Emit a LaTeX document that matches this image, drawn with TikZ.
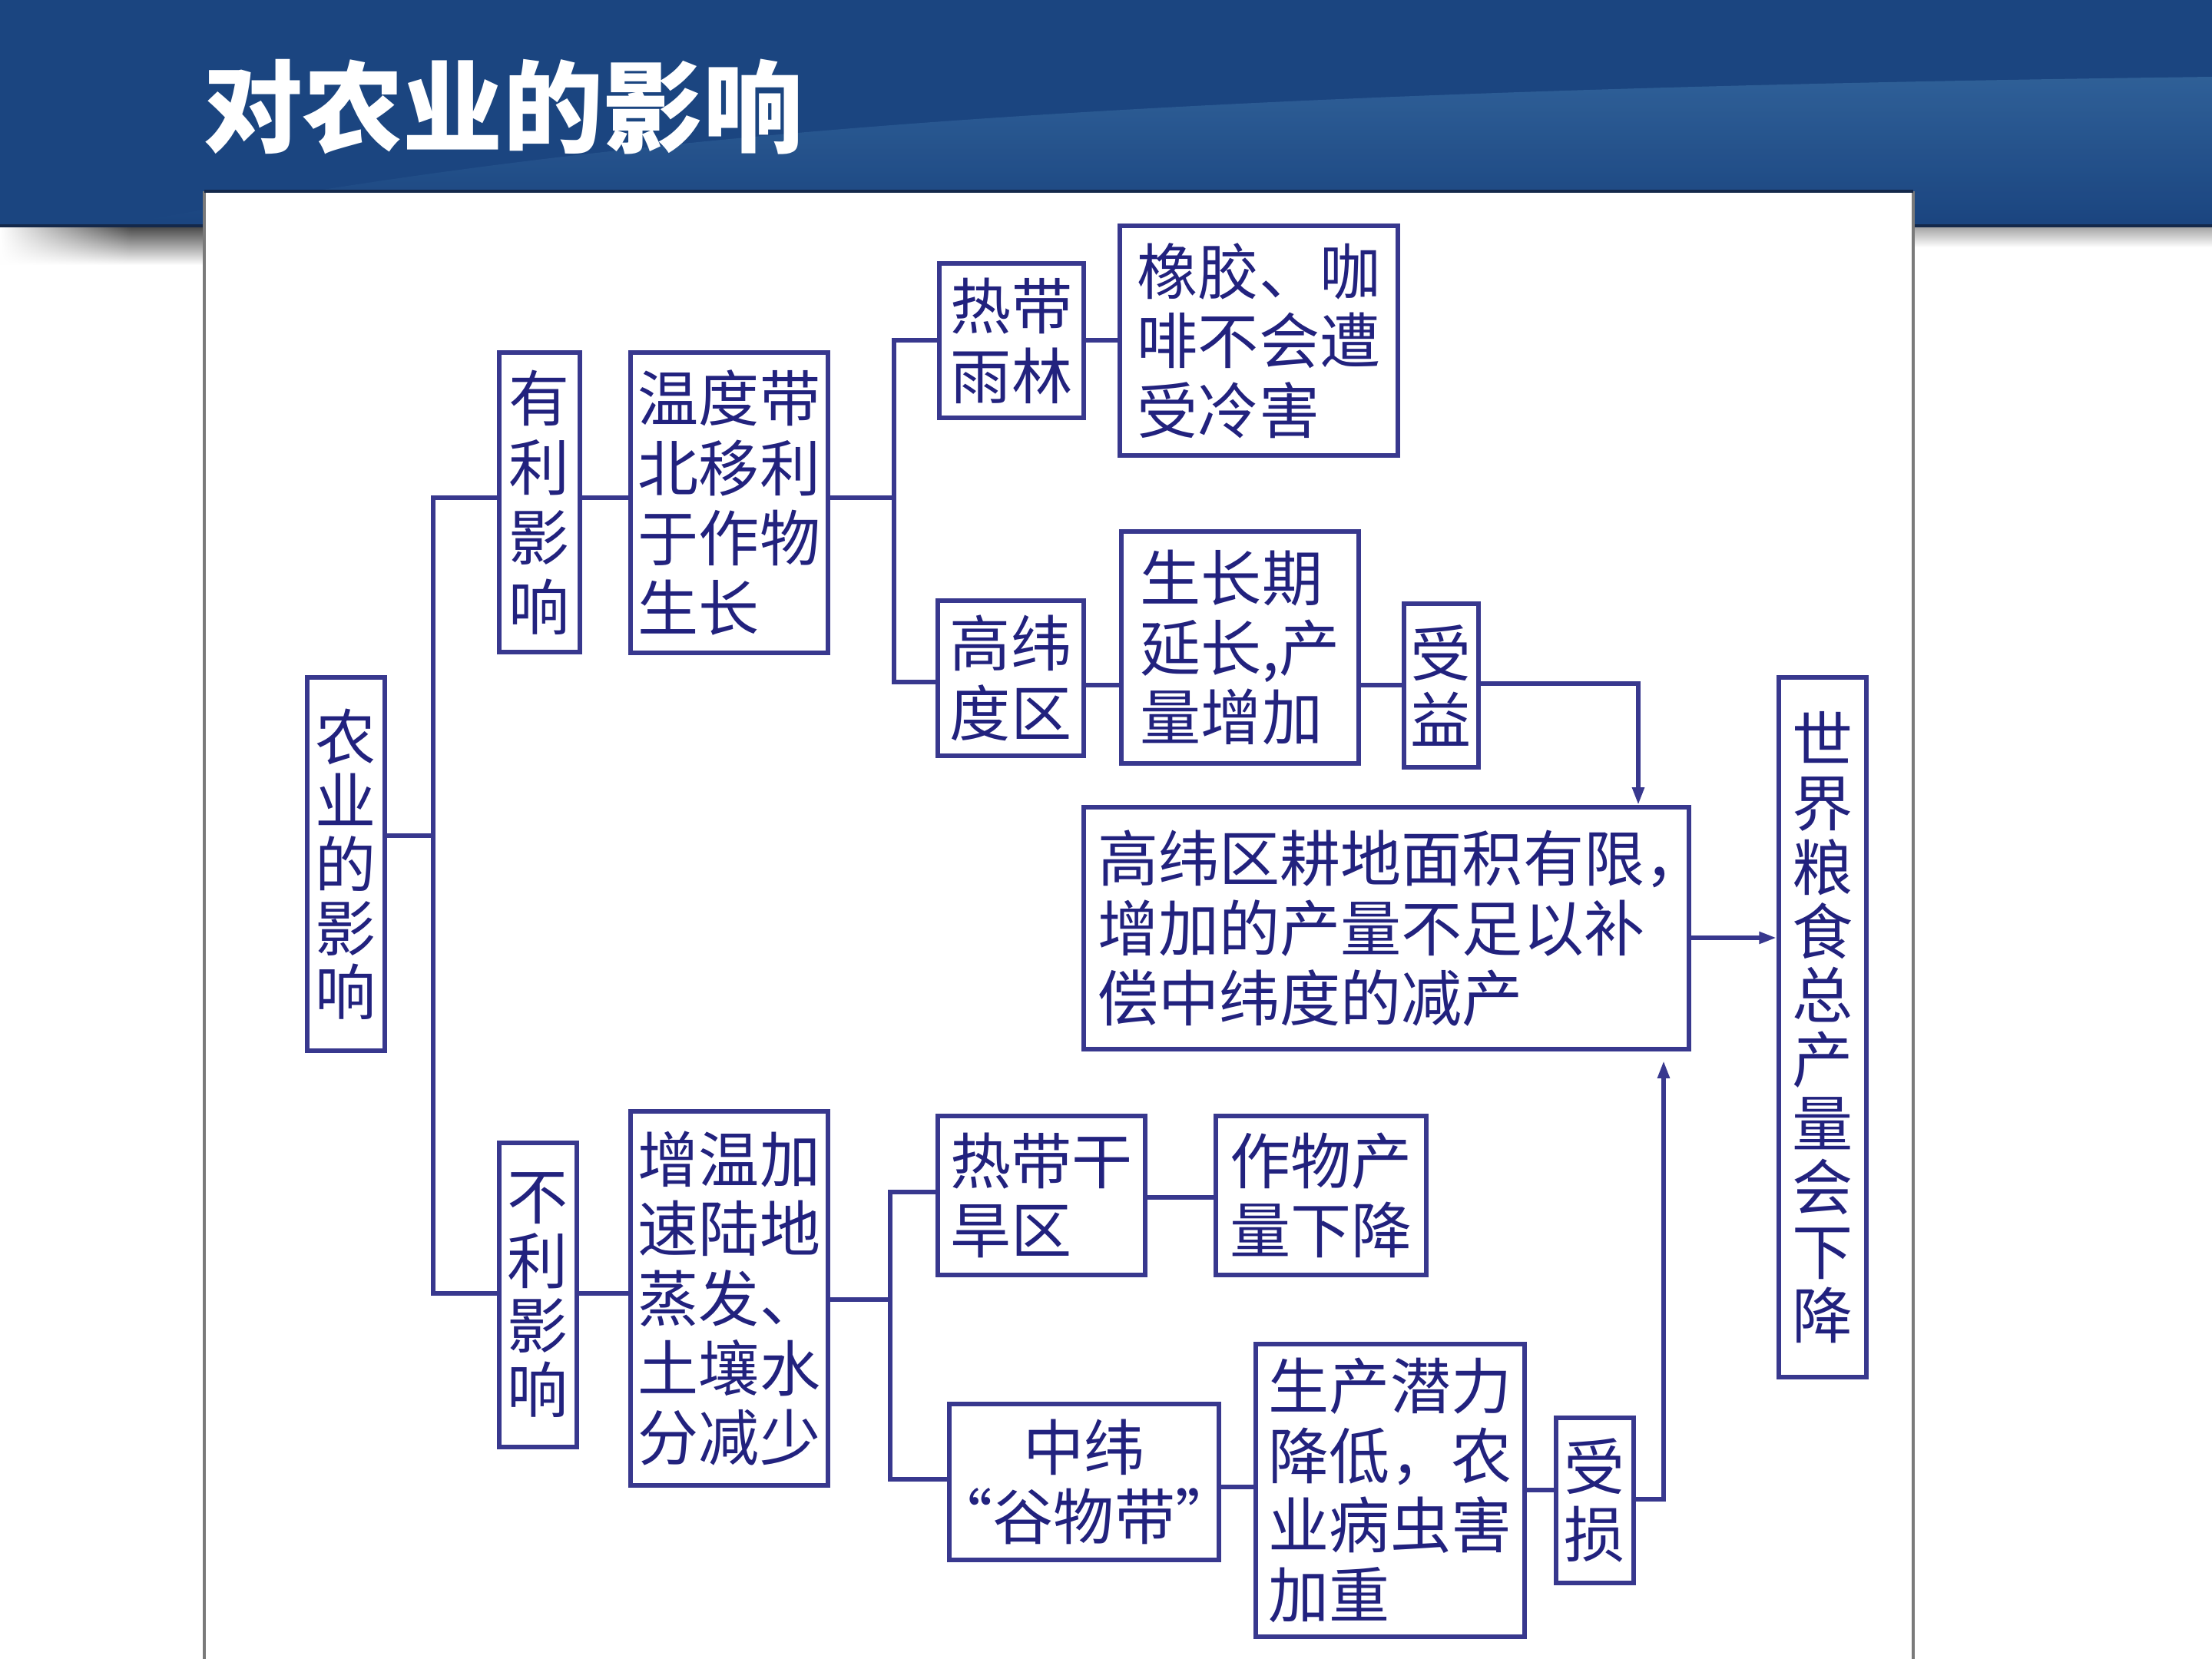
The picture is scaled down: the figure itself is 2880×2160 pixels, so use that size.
\documentclass[tikz,border=0pt]{standalone}
\usepackage{fontspec}
\newfontfamily\cjk{Noto Sans CJK SC}
\usetikzlibrary{arrows.meta,calc,fadings}
\definecolor{hdr}{HTML}{1B4580}
\definecolor{hdrlight}{HTML}{33659C}
\definecolor{hdrdark}{HTML}{14284A}
\definecolor{lncol}{HTML}{38388E}
\definecolor{txt}{HTML}{22227E}
\definecolor{pnl}{HTML}{7A7A7A}
\newcommand{\hcomma}{\makebox[0.5em][l]{，}}
\newcommand{\myopenq}{\makebox[0.5em][r]{“}}
\newcommand{\mycloseq}{\makebox[0.5em][l]{”}}
\tikzset{
  bx/.style={draw=lncol, line width=1.6pt, inner sep=0pt, fill=white, text=txt,
    font=\cjk\fontsize{22.5}{25.8}\selectfont, align=left},
  bxv/.style={bx, align=center, font=\cjk\fontsize{22.5}{#1}\selectfont},
  sz/.style 2 args={minimum width=#1, minimum height=#2},
  ln/.style={draw=lncol, line width=1.6pt},
  arr/.style={ln, -{Triangle[length=6.5pt,width=4.2pt]}}
}
\begin{document}
\begin{tikzpicture}[x=0.01cm,y=-0.01cm]
\useasboundingbox (0,0) rectangle (2880,2160);
% header band
\fill[hdr] (0,0) rectangle (2880,294);
\shade[top color=hdrlight, bottom color=hdr, opacity=0.85]
  (150,294) .. controls (700,190) and (1300,120) .. (2880,100) -- (2880,294) -- cycle;
\draw[hdrdark, line width=1.2pt] (0,294) -- (2880,294);
% shadows below band
\shade[top color=black!70, bottom color=white] (0,296) rectangle (266,345);
\fill[white, path fading=east] (0,296) rectangle (170,345);
\shade[top color=black!35, bottom color=white] (2491,296) rectangle (2880,322);
% title
\node[anchor=base west, text=white, inner sep=0pt,
  font=\cjk\bfseries\fontsize{37}{37}\selectfont] (title) at (264,188) {对农业的影响};
% white panel
\fill[white] (266,249) rectangle (2491,2170);
\draw[pnl, line width=1.2pt] (266,2170) -- (266,249);
\draw[pnl, line width=1.2pt] (2491,249) -- (2491,2170);
\draw[hdrdark, line width=1.2pt] (266,249) -- (2491,249);

% boxes
\node[bxv=23.6pt, sz={1.01cm}{4.86cm}] (farm) at (450.5,1125) {农\\业\\的\\影\\响};
\node[bxv=25.8pt, sz={1.05cm}{3.90cm}] (adv) at (702.5,654) {有\\利\\影\\响};
\node[bx, sz={2.57cm}{3.91cm}] (warm) at (949.5,654.5) {温度带\\北移利\\于作物\\生长};
\node[bx, sz={1.88cm}{2.01cm}] (rain) at (1317,443.5) {热带\\雨林};
\node[bx, sz={3.62cm}{2.99cm}] (rubber) at (1639,443.5) {橡胶、咖\\啡不会遭\\受冷害};
\node[bx, sz={1.90cm}{2.02cm}] (highlat) at (1316,883) {高纬\\度区};
\node[bx, sz={3.09cm}{3.02cm}] (grow) at (1614.5,843) {生长期\\延长,产\\量增加};
\node[bxv=24.7pt, sz={0.97cm}{2.13cm}] (gain) at (1876.5,892.5) {受\\益};
\node[bx, sz={7.88cm}{3.15cm}] (limit) at (1805,1208.5) {高纬区耕地面积有限\hcomma\\增加的产量不足以补\\偿中纬度的减产};
\node[bxv=23.7pt, sz={1.14cm}{9.11cm}] (world) at (2373,1337.5) {世\\界\\粮\\食\\总\\产\\量\\会\\下\\降};
\node[bxv=23.9pt, sz={1.01cm}{3.96cm}] (disadv) at (700.5,1686) {不\\利\\影\\响};
\node[bx, sz={2.57cm}{4.87cm}] (evap) at (949.5,1690.5) {增温加\\速陆地\\蒸发、\\土壤水\\分减少};
\node[bx, sz={2.70cm}{2.07cm}] (dry) at (1356,1556.5) {热带干\\旱区};
\node[bx, sz={2.74cm}{2.07cm}] (yield) at (1720,1556.5) {作物产\\量下降};
\node[bxv=25.8pt, sz={3.51cm}{2.03cm}] (mid) at (1411.5,1929.5) {中纬\\\myopenq 谷物带\mycloseq};
\node[bx, sz={3.50cm}{3.81cm}] (pot) at (1810,1940.5) {生产潜力\\降低，农\\业病虫害\\加重};
\node[bxv=24.9pt, sz={1.01cm}{2.15cm}] (loss) at (2076.5,1953.5) {受\\损};

% connectors
\coordinate (t0) at (564,1088);
\coordinate (t1) at (564,648);
\coordinate (t2) at (564,1684);
\draw[ln] (farm.east |- t0) -- (t0);
\draw[ln] (adv.west |- t1) -- (t1) -- (t2) -- (disadv.west |- t2);
\draw[ln] (adv.east |- t1) -- (warm.west |- t1);

\coordinate (u0) at (1164,648);
\coordinate (u1) at (1164,443);
\coordinate (u2) at (1164,888);
\draw[ln] (warm.east |- u0) -- (u0);
\draw[ln] (rain.west |- u1) -- (u1) -- (u2) -- (highlat.west |- u2);
\draw[ln] (rain.east |- u1) -- (rubber.west |- u1);

\coordinate (v1) at (0,892);
\draw[ln] (highlat.east |- v1) -- (grow.west |- v1);
\draw[ln] (grow.east |- v1) -- (gain.west |- v1);
\coordinate (w1) at (2133,890);
\draw[arr] (gain.east |- w1) -- (w1) -- (limit.north -| w1);
\coordinate (w2) at (0,1221);
\draw[arr] (limit.east |- w2) -- (world.west |- w2);

\draw[ln] (disadv.east |- t2) -- (evap.west |- t2);
\coordinate (s0) at (1159,1692);
\coordinate (s1) at (1159,1552);
\coordinate (s2) at (1159,1926);
\draw[ln] (evap.east |- s0) -- (s0);
\draw[ln] (dry.west |- s1) -- (s1) -- (s2) -- (mid.west |- s2);
\coordinate (s3) at (0,1559);
\draw[ln] (dry.east |- s3) -- (yield.west |- s3);
\coordinate (s4) at (0,1936);
\draw[ln] (mid.east |- s4) -- (pot.west |- s4);
\coordinate (s5) at (0,1940);
\draw[ln] (pot.east |- s5) -- (loss.west |- s5);
\coordinate (r0) at (2166,1952);
\draw[arr] (loss.east |- r0) -- (r0) -- ($(limit.south -| r0)+(0,12)$);
\end{tikzpicture}
\end{document}
